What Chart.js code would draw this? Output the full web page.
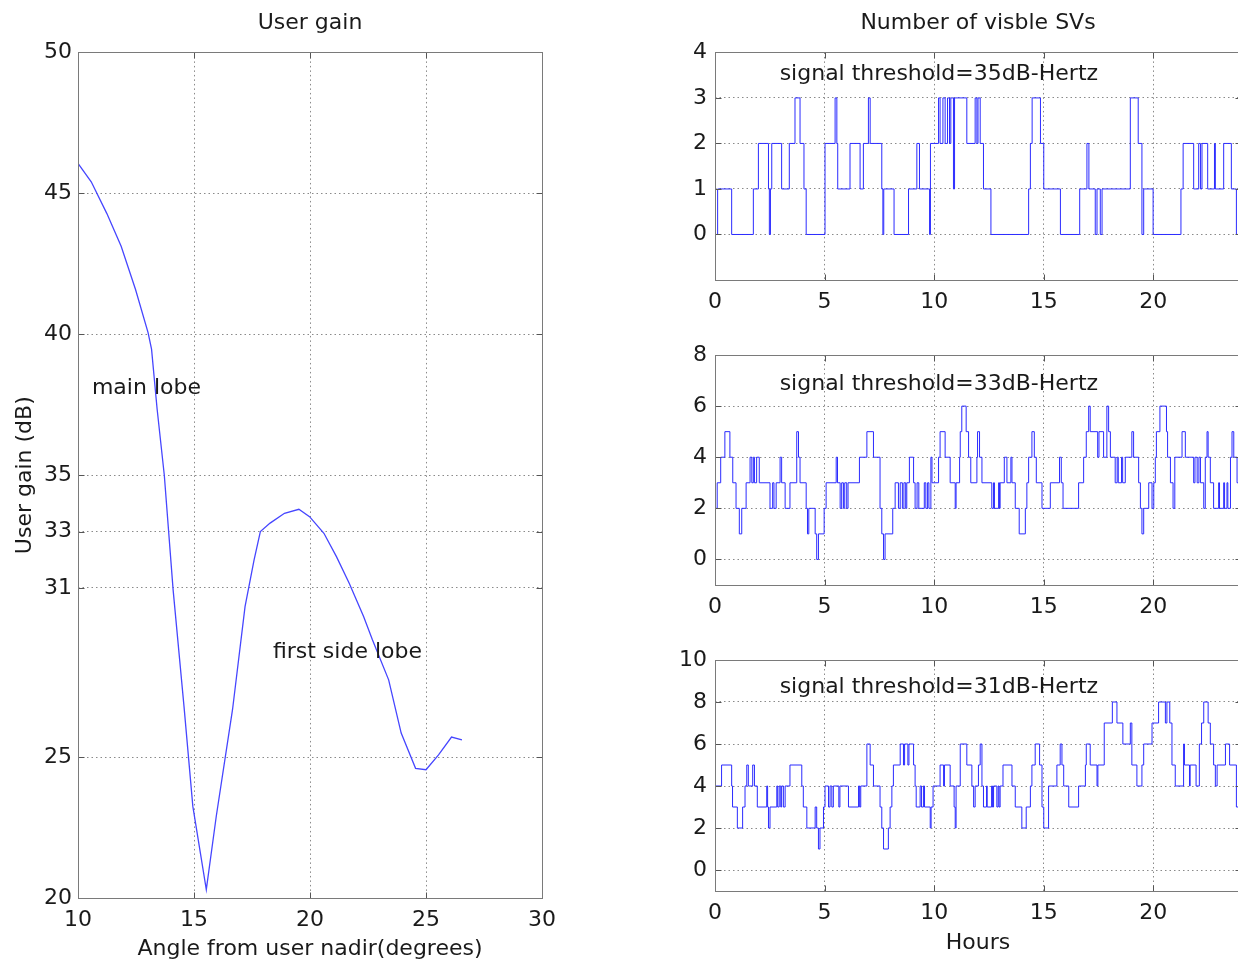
<!DOCTYPE html>
<html>
<head>
<meta charset="utf-8">
<script src="https://cdn.jsdelivr.net/npm/chart.js@4.4.0/dist/chart.umd.min.js"></script>
<style>
  html, body { margin: 0; padding: 0; background: #fff; width: 1238px; height: 964px; overflow: hidden; }
  canvas { position: absolute; }
</style>
</head>
<body>
<canvas id="gain" width="565" height="964" style="left:0;top:0"></canvas>
<canvas id="sv35" width="610" height="320" style="left:640px;top:0"></canvas>
<canvas id="sv33" width="610" height="295" style="left:640px;top:330px"></canvas>
<canvas id="sv31" width="610" height="329" style="left:640px;top:635px"></canvas>
<script>
// user gain vs angle from nadir
var gainAngle = [10.0, 10.57, 11.24, 11.86, 12.48, 13.02, 13.17, 13.41, 13.72, 14.10, 14.57, 14.95, 15.53, 15.96, 16.66, 17.2, 17.59, 17.86, 18.28, 18.9, 19.52, 19.98, 20.6, 21.14, 21.69, 22.31, 22.69, 23.39, 23.93, 24.55, 25.0, 25.54, 26.1, 26.55];
var gainDb    = [46.06, 45.41, 44.29, 43.12, 41.59, 40.06, 39.47, 37.35, 35.0, 30.93, 26.79, 23.25, 20.3, 22.9, 26.68, 30.34, 32.0, 33.0, 33.3, 33.65, 33.79, 33.53, 32.94, 32.11, 31.17, 29.99, 29.16, 27.74, 25.85, 24.6, 24.55, 25.08, 25.71, 25.61];
var gainTicks  = [20, 25, 31, 33, 35, 40, 45, 50];
var angleTicks = [10, 15, 20, 25, 30];

// visible SVs, step changes (hour, count)
var hours35 = [0, 0.12, 0.76, 1.75, 1.98, 2.44, 2.48, 2.53, 2.59, 3.04, 3.39, 3.65, 3.88, 4.06, 4.16, 5.02, 5.48, 5.56, 5.60, 6.16, 6.62, 6.77, 7.00, 7.08, 7.61, 7.66, 7.70, 8.17, 8.83, 9.21, 9.33, 9.79, 9.83, 10.20, 10.27, 10.40, 10.50, 10.61, 10.70, 10.76, 10.88, 10.93, 11.49, 11.87, 11.95, 12.00, 12.10, 12.25, 12.59, 14.31, 14.39, 14.47, 14.85, 15.00, 15.76, 16.64, 16.97, 17.06, 17.35, 17.43, 17.58, 17.66, 18.95, 19.31, 19.48, 19.56, 19.99, 21.26, 21.36, 21.84, 22.07, 22.15, 22.22, 22.48, 22.79, 22.83, 23.21, 23.56, 23.79, 24];
var svs35   = [0, 1, 0, 1, 2, 1, 0, 1, 2, 1, 2, 3, 2, 1, 0, 2, 3, 2, 1, 2, 1, 2, 3, 2, 1, 0, 1, 0, 1, 2, 1, 0, 2, 3, 2, 3, 2, 3, 2, 3, 1, 3, 2, 3, 2, 3, 2, 1, 0, 1, 2, 3, 2, 1, 0, 1, 2, 1, 0, 1, 0, 1, 3, 2, 0, 1, 0, 1, 2, 1, 2, 1, 2, 1, 2, 1, 2, 1, 0, 0];

var hours33 = [0, 0.1, 0.26, 0.45, 0.68, 0.81, 0.96, 1.11, 1.22, 1.42, 1.60, 1.68, 1.75, 1.80, 1.90, 2.02, 2.51, 2.63, 2.69, 2.79, 2.97, 3.04, 3.20, 3.42, 3.73, 3.81, 3.88, 4.16, 4.22, 4.28, 4.57, 4.64, 4.72, 4.98, 5.07, 5.53, 5.59, 5.71, 5.78, 5.86, 5.92, 6.01, 6.07, 6.59, 6.93, 7.23, 7.53, 7.61, 7.69, 7.76, 8.11, 8.22, 8.37, 8.45, 8.55, 8.62, 8.70, 8.75, 8.87, 9.06, 9.13, 9.22, 9.30, 9.55, 9.62, 9.70, 9.76, 9.85, 9.90, 10.20, 10.27, 10.50, 10.73, 10.96, 11.00, 11.16, 11.19, 11.26, 11.46, 11.57, 11.67, 11.95, 11.98, 12.07, 12.18, 12.63, 12.71, 12.75, 12.94, 12.98, 13.01, 13.2, 13.32, 13.50, 13.55, 13.70, 13.88, 14.16, 14.23, 14.31, 14.46, 14.57, 14.66, 14.92, 15.30, 15.72, 15.80, 15.88, 16.59, 16.82, 16.94, 17.05, 17.12, 17.46, 17.52, 17.73, 17.88, 17.96, 18.04, 18.26, 18.35, 18.40, 18.55, 18.60, 18.72, 19.02, 19.10, 19.33, 19.41, 19.48, 19.56, 19.79, 19.94, 20.02, 20.09, 20.14, 20.30, 20.60, 20.65, 20.78, 20.90, 20.98, 21.31, 21.46, 21.84, 21.90, 22.00, 22.08, 22.15, 22.30, 22.37, 22.45, 22.50, 22.60, 22.75, 22.98, 23.02, 23.21, 23.25, 23.36, 23.40, 23.52, 23.59, 23.67, 23.82, 24];
var svs33   = [2, 3, 4, 5, 4, 3, 2, 1, 2, 3, 4, 3, 4, 3, 4, 3, 2, 3, 2, 3, 4, 3, 2, 3, 5, 4, 3, 2, 1, 2, 1, 0, 1, 2, 3, 4, 3, 2, 3, 2, 3, 2, 3, 4, 5, 4, 2, 1, 0, 1, 2, 3, 2, 3, 2, 3, 2, 3, 4, 3, 2, 3, 2, 3, 2, 3, 2, 4, 3, 4, 5, 4, 3, 2, 3, 4, 5, 6, 5, 4, 3, 4, 5, 4, 3, 2, 3, 2, 3, 2, 3, 4, 3, 4, 3, 2, 1, 2, 3, 4, 5, 4, 3, 2, 3, 4, 3, 2, 3, 4, 5, 6, 5, 4, 5, 4, 6, 5, 4, 3, 4, 3, 4, 3, 4, 5, 4, 3, 2, 1, 2, 3, 2, 3, 4, 5, 6, 5, 4, 3, 2, 4, 5, 4, 3, 4, 3, 4, 3, 2, 4, 5, 4, 3, 2, 3, 2, 3, 2, 3, 2, 4, 5, 4, 3, 3];

var hours31 = [0, 0.3, 0.76, 0.8, 1.02, 1.26, 1.37, 1.45, 1.52, 1.72, 1.80, 1.93, 2.36, 2.40, 2.44, 2.51, 2.82, 2.86, 2.93, 3.00, 3.04, 3.12, 3.20, 3.42, 3.96, 4.03, 4.19, 4.57, 4.64, 4.72, 4.79, 4.95, 5.02, 5.18, 5.25, 5.33, 5.40, 5.65, 5.70, 6.09, 6.55, 6.60, 6.65, 6.93, 7.08, 7.23, 7.53, 7.61, 7.69, 7.91, 7.99, 8.07, 8.14, 8.45, 8.60, 8.65, 8.80, 8.85, 9.06, 9.13, 9.18, 9.36, 9.42, 9.51, 9.56, 9.82, 9.86, 9.95, 10.27, 10.43, 10.47, 10.73, 10.91, 10.96, 11.00, 11.19, 11.49, 11.72, 11.80, 11.87, 12.02, 12.10, 12.18, 12.25, 12.39, 12.42, 12.62, 12.66, 12.71, 12.86, 12.92, 12.96, 13.01, 13.14, 13.55, 13.70, 14.00, 14.20, 14.39, 14.46, 14.61, 14.81, 14.92, 15.00, 15.22, 15.60, 15.75, 15.83, 15.91, 16.14, 16.59, 16.90, 16.94, 17.12, 17.43, 17.47, 17.76, 18.13, 18.34, 18.61, 18.95, 19.02, 19.25, 19.48, 19.56, 19.94, 20.24, 20.55, 20.62, 20.75, 20.85, 21.00, 21.38, 21.42, 21.65, 21.68, 21.95, 22.10, 22.20, 22.30, 22.50, 22.60, 22.75, 22.83, 22.91, 23.29, 23.48, 23.79, 24];
var svs31   = [4, 5, 4, 3, 2, 3, 4, 5, 4, 5, 4, 3, 4, 3, 2, 3, 4, 3, 4, 3, 4, 3, 4, 5, 4, 3, 2, 3, 2, 1, 2, 3, 4, 3, 4, 3, 4, 3, 4, 3, 4, 3, 4, 6, 5, 4, 3, 2, 1, 2, 3, 4, 5, 6, 5, 6, 5, 6, 5, 4, 3, 4, 3, 4, 3, 2, 3, 4, 5, 4, 5, 4, 3, 2, 4, 6, 5, 4, 3, 4, 5, 6, 4, 3, 4, 3, 4, 3, 4, 3, 4, 3, 4, 5, 4, 3, 2, 3, 4, 5, 6, 5, 3, 2, 4, 5, 6, 5, 4, 3, 4, 5, 6, 5, 4, 5, 7, 8, 7, 6, 7, 5, 4, 5, 6, 7, 8, 7, 8, 7, 5, 4, 6, 5, 4, 5, 4, 6, 7, 8, 7, 6, 5, 4, 5, 6, 5, 3, 3];

var hourTicks = [0, 5, 10, 15, 20];

var FONT = "'DejaVu Sans', sans-serif";
var TXT = '#1a1a1a';
Chart.defaults.font.family = FONT;
Chart.defaults.font.size = 22;
Chart.defaults.color = TXT;

// matlab style box with inward tick marks
var frame = {
  id: 'frame',
  afterDatasetsDraw: function(chart) {
    var a = chart.chartArea, c = chart.ctx;
    var xs = chart.scales.x, ys = chart.scales.y;
    var L = Math.round(a.left) + 0.5, R = Math.round(a.right) + 0.5,
        T = Math.round(a.top) + 0.5, B = Math.round(a.bottom) + 0.5;
    c.save();
    c.strokeStyle = '#555';
    c.lineWidth = 1;
    c.beginPath();
    xs.ticks.forEach(function(t) {
      var p = Math.round(xs.getPixelForValue(t.value)) + 0.5;
      c.moveTo(p, B); c.lineTo(p, B - 6);
      c.moveTo(p, T); c.lineTo(p, T + 6);
    });
    ys.ticks.forEach(function(t) {
      var p = Math.round(ys.getPixelForValue(t.value)) + 0.5;
      c.moveTo(L, p); c.lineTo(L + 6, p);
      c.moveTo(R, p); c.lineTo(R - 6, p);
    });
    c.stroke();
    c.strokeStyle = '#7a7a7a';
    c.strokeRect(L, T, R - L, B - T);
    c.restore();
  }
};

var notes = {
  id: 'notes',
  afterDatasetsDraw: function(chart, args, opts) {
    var c = chart.ctx;
    c.save();
    c.font = '22px ' + FONT;
    c.fillStyle = TXT;
    c.textBaseline = 'middle';
    (opts.items || []).forEach(function(n) {
      c.fillText(n.text, chart.scales.x.getPixelForValue(n.x), chart.scales.y.getPixelForValue(n.y));
    });
    c.restore();
  }
};

function fixTicks(list) {
  return function(scale) { scale.ticks = list.map(function(v) { return { value: v }; }); };
}

var gridOpts = { color: '#8a8a8a', lineWidth: 1, drawTicks: false };
var borderOpts = { display: false, dash: [1.5, 3] };

new Chart(document.getElementById('gain'), {
  type: 'line',
  data: {
    datasets: [{
      data: gainAngle.map(function(a, i) { return { x: a, y: gainDb[i] }; }),
      borderColor: '#4646ff',
      borderWidth: 1.3,
      pointRadius: 0,
      tension: 0,
      fill: false
    }]
  },
  options: {
    responsive: false,
    animation: false,
    layout: { padding: { top: 2, right: 13, left: 0, bottom: 0 } },
    plugins: {
      legend: { display: false },
      tooltip: { enabled: false },
      title: { display: true, fullSize: false, text: 'User gain', color: TXT, font: { size: 22, weight: 'normal' }, padding: { top: 8, bottom: 16 } },
      notes: { items: [
        { text: 'main lobe', x: 10.6, y: 38.1 },
        { text: 'first side lobe', x: 18.4, y: 28.7 }
      ] }
    },
    scales: {
      x: {
        type: 'linear', min: 10, max: 30,
        afterBuildTicks: fixTicks(angleTicks),
        afterFit: function(s) { s.height = 66; },
        grid: gridOpts, border: borderOpts,
        ticks: { padding: 9, color: TXT, maxRotation: 0 },
        title: { display: true, text: 'Angle from user nadir(degrees)', color: TXT, font: { size: 22 }, padding: { top: 0, bottom: 2 } }
      },
      y: {
        type: 'linear', min: 20, max: 50,
        afterBuildTicks: fixTicks(gainTicks),
        afterFit: function(s) { s.width = 78; },
        grid: gridOpts, border: borderOpts,
        ticks: { padding: 6, color: TXT },
        title: { display: true, text: 'User gain (dB)', color: TXT, font: { size: 22 }, padding: { top: 12, bottom: 0 } }
      }
    }
  },
  plugins: [frame, notes]
});

function svChart(id, hours, svs, yMax, yTicks, label, labelY, opts) {
  return new Chart(document.getElementById(id), {
    type: 'line',
    data: {
      datasets: [{
        data: hours.map(function(h, i) { return { x: h, y: svs[i] }; }),
        stepped: true,
        borderColor: '#2b2bff',
        borderWidth: 1,
        pointRadius: 0,
        fill: false
      }]
    },
    options: {
      responsive: false,
      animation: false,
      layout: { padding: { top: opts.padTop, right: 9, left: 0, bottom: 0 } },
      plugins: {
        legend: { display: false },
        tooltip: { enabled: false },
        title: opts.title ? { display: true, fullSize: false, text: opts.title, color: TXT, font: { size: 22, weight: 'normal' }, padding: { top: 8, bottom: 16 } } : { display: false },
        notes: { items: [{ text: label, x: 2.95, y: labelY }] }
      },
      scales: {
        x: {
          type: 'linear', min: 0, max: 24,
          afterBuildTicks: fixTicks(hourTicks),
          afterFit: function(s) { s.height = opts.xHeight; },
          grid: gridOpts, border: borderOpts,
          ticks: { padding: 9, color: TXT, maxRotation: 0 },
          title: opts.xTitle ? { display: true, text: opts.xTitle, color: TXT, font: { size: 22 }, padding: { top: 0, bottom: 8 } } : { display: false }
        },
        y: {
          type: 'linear', min: -1, max: yMax,
          afterBuildTicks: fixTicks(yTicks),
          afterFit: function(s) { s.width = 75; },
          grid: gridOpts, border: borderOpts,
          ticks: { padding: 8, color: TXT }
        }
      }
    },
    plugins: [frame, notes]
  });
}

svChart('sv35', hours35, svs35, 4, [0, 1, 2, 3, 4], 'signal threshold=35dB-Hertz', 3.52,
  { padTop: 2, xHeight: 40, title: 'Number of visble SVs' });
svChart('sv33', hours33, svs33, 8, [0, 2, 4, 6, 8], 'signal threshold=33dB-Hertz', 6.87,
  { padTop: 25, xHeight: 40 });
svChart('sv31', hours31, svs31, 10, [0, 2, 4, 6, 8, 10], 'signal threshold=31dB-Hertz', 8.71,
  { padTop: 25, xHeight: 73, xTitle: 'Hours' });
</script>
</body>
</html>
